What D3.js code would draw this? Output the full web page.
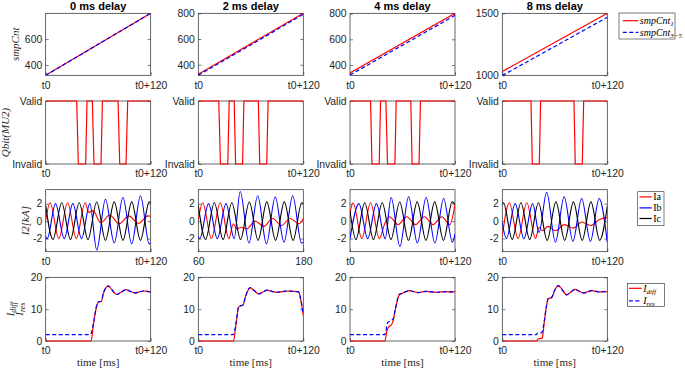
<!DOCTYPE html>
<html><head><meta charset="utf-8">
<script src="https://cdn.jsdelivr.net/npm/d3@7"></script>
<style>body{margin:0;background:#fff}svg{display:block}</style>
</head><body><svg id="c" width="685" height="369"></svg>
<script>
// ---------------- DATA ----------------
const titles = ["0 ms delay", "2 ms delay", "4 ms delay", "8 ms delay"];
const timeTickLabels = [["t0", "t0+120"], ["t0", "t0+120"], ["t0", "t0+120"], ["t0", "t0+120"]];
const currentTickLabels = [["t0", "t0+120"], ["60", "180"], ["t0", "t0+120"], ["t0", "t0+120"]];
const currentTimeDomain = [[0, 120], [60, 180], [0, 120], [0, 120]];

// Row 1: sample counters
const smpTicks = [[400, 600], [400, 600, 800], [400, 600, 800], [1000, 1500]];
const smpMin = [320, 318, 320, 1000];
const smpMax = [799, 800, 802, 1500];
const smp1Start = [320, 326, 338, 1030];
const smp1End = [799, 800, 802, 1500];
const smp35Start = [320, 318, 322, 998];
const smp35End = [799, 792, 786, 1468];

// Row 2: Qbit (1 = Valid, 0 = Invalid)
const qbitT = [
  [0, 35.4, 37.3, 45.7, 47.2, 53.3, 55.2, 63.2, 64.8, 82.7, 84.6, 91.8, 93.7, 120],
  [0, 23.4, 25.3, 33.7, 35.3, 41.0, 42.6, 50.6, 52.1, 68.6, 70.2, 78.2, 79.8, 120],
  [0, 23.5, 25.1, 33.4, 34.9, 41.0, 42.9, 51.3, 52.8, 69.5, 71.0, 78.9, 80.5, 120],
  [0, 32.8, 34.3, 42.3, 43.8, 81.9, 83.4, 91.4, 93.0, 120]
];
const qbitV = [
  [1, 1, 0, 0, 1, 1, 0, 0, 1, 1, 0, 0, 1, 1],
  [1, 1, 0, 0, 1, 1, 0, 0, 1, 1, 0, 0, 1, 1],
  [1, 1, 0, 0, 1, 1, 0, 0, 1, 1, 0, 0, 1, 1],
  [1, 1, 0, 0, 1, 1, 0, 0, 1, 1]
];

// Row 3: phase currents, extrema [time ms, kA]
const ia = [
  [[0,0.1],[5,2.1],[15,-2.0],[25,2.1],[35,-2.0],[45,2.1],[49.5,1.0],[54,1.2],[63,-0.2],[73,0.7],[84,-0.3],[95,0.6],[106,-0.25],[117,0.6],[120,0.55]],
  [[60,0.1],[65,2.1],[75,-2.0],[85,2.1],[95,-2.0],[100,-0.3],[104,-0.9],[109,-0.7],[115,-0.9],[125,0.0],[135,-0.6],[145,0.3],[155,-0.5],[165,0.3],[175,-0.3],[180,0.3]],
  [[0,0.95],[3.5,2.1],[13.5,-2.0],[23.5,2.1],[33.5,-2.0],[40,-0.2],[45,0.5],[55,-0.4],[65,0.5],[75,-0.4],[85,0.5],[95,-0.4],[105,0.5],[114,-0.4],[120,1.9]],
  [[0,-1.7],[8,2.1],[18,-2.0],[28,2.1],[38,-2.0],[42,-0.7],[46,-1.1],[52,-0.6],[61,-1.1],[71,-0.4],[81,-0.8],[91,-0.1],[101,-0.5],[111,0.2],[120,0.4]]
];
const ib = [
  [[0,-1.75],[1.7,-2.0],[11.2,2.0],[21.2,-2.0],[31,2.0],[41,-2.0],[50.5,2.0],[58.3,-3.3],[68.3,2.5],[78.3,-2.5],[88.3,2.7],[98.3,-2.6],[108.3,2.9],[118.3,-2.6],[120,-2.5]],
  [[60,-1.75],[61.7,-2.0],[71.7,2.0],[81.7,-2.0],[91.7,2.0],[101,-2.0],[107.9,3.4],[117.9,-2.5],[127.9,2.9],[137.9,-2.6],[147.9,2.8],[157.9,-2.4],[167.9,2.9],[177.9,-2.5],[180,-2.4]],
  [[0,-2.0],[10.2,2.0],[20.2,-2.0],[30.2,2.0],[40.2,-2.0],[47,2.7],[57,-2.9],[67,2.8],[77,-2.5],[87,2.7],[97,-2.5],[107,2.6],[117,-2.4],[120,-1.5]],
  [[0,-0.2],[4.7,-2.0],[14.7,2.0],[24.7,-2.0],[34.7,2.0],[42,-1.3],[50.7,3.3],[60.7,-2.4],[70.7,2.8],[80.7,-2.3],[90.7,2.6],[100.7,-2.3],[110.7,2.6],[120,-2.4]]
];
const ic = [
  [[0,1.8],[8.3,-2.1],[18.3,2.1],[28.3,-2.1],[38.3,2.1],[48.3,-2.1],[58.3,2.2],[68.3,-2.2],[78.3,2.2],[88.3,-2.2],[98.3,2.2],[108.3,-2.2],[118.3,2.2],[120,2.1]],
  [[60,1.8],[68.3,-2.1],[78.3,2.1],[88.3,-2.1],[98.3,2.1],[108.3,-2.1],[118.3,2.2],[128.3,-2.2],[138.3,2.2],[148.3,-2.2],[158.3,2.2],[168.3,-2.2],[178.3,2.1],[180,2.0]],
  [[0,1.15],[6.8,-2.1],[16.8,2.1],[26.8,-2.1],[36.8,2.1],[46.8,-2.1],[56.8,2.2],[66.8,-2.2],[76.8,2.2],[86.8,-2.2],[96.8,2.2],[106.8,-2.2],[116.8,2.2],[120,1.9]],
  [[0,2.05],[1.3,2.1],[11.3,-2.1],[21.3,2.1],[31.3,-2.1],[41.3,2.1],[51.3,-2.2],[61.3,2.2],[71.3,-2.2],[81.3,2.2],[91.3,-2.2],[101.3,2.2],[111.3,-2.2],[120,1.7]]
];

// Row 4: differential and restraint currents [time ms, value]
const idiff = [
  [[0,0],[51.8,0],[54.5,5],[58.3,11],[60.2,12.2],[63.5,12.4],[66,15],[71.6,17.2],[76,16],[81,14.6],[86,15.3],[91.8,16.1],[97,15.6],[102,15.1],[107,15.4],[111.6,15.7],[116,15.6],[120,15.4]],
  [[0,0],[40.3,0],[43,5],[46,10.5],[48,11],[51,11.2],[54,14],[59.4,16.7],[64,15.8],[69,14.8],[74,15.4],[78.6,16],[84,15.6],[90,15.3],[96,15.5],[101.6,15.7],[107,15.6],[113,15.5],[115,15.3],[117,13],[120,8]],
  [[0,0],[39.9,0],[42,3],[44.4,4.5],[47,5],[49,6],[52,10],[56.2,14.5],[60,15],[64,15.5],[68.4,15.8],[73,15.5],[77.9,15.2],[82,15.4],[87.4,15.6],[93,15.4],[98.7,15.3],[104,15.4],[110,15.5],[115,15.4],[120,15.4]],
  [[0,0],[39.2,0],[41,0.7],[45,0.8],[45.7,1],[48,6],[50,10],[52.6,13.3],[56.4,13.6],[60,16],[64,17.4],[68,16.3],[73.5,14.5],[78,15.3],[83,16.2],[88,15.6],[92.6,15.1],[97,15.4],[102,15.8],[107,15.6],[111.6,15.4],[116,15.5],[120,15.5]]
];
const ires = [
  [[0,2],[50.8,2],[52,2.5],[54.5,5.5],[58.3,11.2],[60.2,12.3],[63.5,12.5],[66,15.1],[71.6,17.3],[76,16],[81,14.6],[86,15.3],[91.8,16.1],[97,15.6],[102,15.1],[107,15.4],[111.6,15.7],[116,15.6],[120,15.4]],
  [[0,2],[40,2],[41,2.5],[43,5.5],[46,10.7],[48,11.1],[51,11.3],[54,14.1],[59.4,16.8],[64,15.8],[69,14.8],[74,15.4],[78.6,16],[84,15.6],[90,15.3],[96,15.5],[101.6,15.7],[107,15.6],[113,15.5],[115,15.3],[117,13.2],[120,8.5]],
  [[0,2],[39.5,2],[41,3],[42.5,5.5],[45,6.2],[47,6.5],[49,6.8],[52,10.3],[56.2,14.6],[60,15],[64,15.5],[68.4,15.8],[73,15.5],[77.9,15.2],[82,15.4],[87.4,15.6],[93,15.4],[98.7,15.3],[104,15.4],[110,15.5],[115,15.4],[120,15.4]],
  [[0,2],[39.2,2],[40,2.5],[45,2.6],[45.7,3],[48,6.3],[50,10.2],[52.6,13.4],[56.4,13.7],[60,16],[64,17.4],[68,16.3],[73.5,14.5],[78,15.3],[83,16.2],[88,15.6],[92.6,15.1],[97,15.4],[102,15.8],[107,15.6],[111.6,15.4],[116,15.5],[120,15.5]]
];

// ---------------- LAYOUT ----------------
const colX = [45.7, 198.3, 350, 502.3];
const PW = 105;
const rowY = [13.3, 101, 189.7, 277.3];
const rowH = [62, 63, 62, 63.7];
const SANS = "'Liberation Sans', Arial, Helvetica, sans-serif";
const SERIF = "'Liberation Serif', 'Times New Roman', serif";
const AXC = "#262626";
const RED = "#ff0000", BLUE = "#0000ff", BLACK = "#000000";

const svg = d3.select("#c");
const defs = svg.append("defs");

function makePanel(r, c, xDomain, yDomain, xTicks, xLabels, yTicks, yLabels) {
  const g = svg.append("g").attr("transform", `translate(${colX[c]},${rowY[r]})`);
  const x = d3.scaleLinear().domain(xDomain).range([0, PW]);
  const y = d3.scaleLinear().domain(yDomain).range([rowH[r], 0]);
  const id = `clip${r}_${c}`;
  defs.append("clipPath").attr("id", id).append("rect")
    .attr("x", 0).attr("y", -1).attr("width", PW).attr("height", rowH[r] + 2);
  const style = sel => {
    sel.select(".domain").remove();
    sel.selectAll("line").attr("stroke", AXC).attr("stroke-width", 0.6);
    sel.selectAll("text").attr("fill", AXC).style("font-family", SANS).style("font-size", "10.4px");
  };
  g.append("g").attr("transform", `translate(0,${rowH[r]})`)
    .call(d3.axisBottom(x).tickValues(xTicks).tickFormat((d, i) => xLabels[i]).tickSizeInner(-3).tickSizeOuter(0).tickPadding(6))
    .call(style);
  g.append("g")
    .call(d3.axisLeft(y).tickValues(yTicks).tickFormat((d, i) => yLabels[i]).tickSizeInner(-3).tickSizeOuter(0).tickPadding(3.5))
    .call(style);
  g.append("g").attr("transform", `translate(${PW},0)`)
    .call(d3.axisRight(y).tickValues(yTicks).tickFormat("").tickSizeInner(-3).tickSizeOuter(0))
    .call(style);
  g.append("rect").attr("x", 0).attr("y", 0).attr("width", PW).attr("height", rowH[r])
    .attr("fill", "none").attr("stroke", AXC).attr("stroke-width", 0.7);
  const plot = g.append("g").attr("clip-path", `url(#${id})`);
  return {g, x, y, plot};
}

// titles
titles.forEach((t, c) => {
  svg.append("text").attr("x", colX[c] + PW / 2).attr("y", 9.6).attr("text-anchor", "middle")
    .style("font-family", SANS).style("font-weight", "bold").style("font-size", "11px").attr("fill", "#000").text(t);
});

// Row 1
for (let c = 0; c < 4; c++) {
  const p = makePanel(0, c, [0, 120], [smpMin[c], smpMax[c]], [0, 120], timeTickLabels[c], smpTicks[c], smpTicks[c].map(String));
  const ln = d3.line().x(d => p.x(d[0])).y(d => p.y(d[1]));
  p.plot.append("path").datum([[0, smp1Start[c]], [120, smp1End[c]]]).attr("d", ln)
    .attr("fill", "none").attr("stroke", RED).attr("stroke-width", 1.2);
  p.plot.append("path").datum([[0, smp35Start[c]], [120, smp35End[c]]]).attr("d", ln)
    .attr("fill", "none").attr("stroke", BLUE).attr("stroke-width", 1.2).attr("stroke-dasharray", "4,2.5");
}

// Row 2
for (let c = 0; c < 4; c++) {
  const p = makePanel(1, c, [0, 120], [0, 1], [0, 120], timeTickLabels[c], [0, 1], ["Invalid", "Valid"]);
  const pts = qbitT[c].map((t, i) => [t, qbitV[c][i]]);
  const ln = d3.line().x(d => p.x(d[0])).y(d => p.y(d[1]));
  p.plot.append("path").datum(pts).attr("d", ln)
    .attr("fill", "none").attr("stroke", RED).attr("stroke-width", 1.2);
}

// Row 3
for (let c = 0; c < 4; c++) {
  const dom = currentTimeDomain[c];
  const p = makePanel(2, c, dom, [-3.5, 3.6], dom, currentTickLabels[c], [-2, 0, 2], ["-2", "0", "2"]);
  const line = d3.line().x(d => p.x(d[0])).y(d => p.y(d[1])).curve(d3.curveMonotoneX);
  [[ia[c], RED], [ib[c], BLUE], [ic[c], BLACK]].forEach(([d, col]) => {
    p.plot.append("path").datum(d).attr("d", line)
      .attr("fill", "none").attr("stroke", col).attr("stroke-width", 1.1);
  });
}

// Row 4
for (let c = 0; c < 4; c++) {
  const p = makePanel(3, c, [0, 120], [0, 20], [0, 120], timeTickLabels[c], [0, 10, 20], ["0", "10", "20"]);
  const line = d3.line().x(d => p.x(d[0])).y(d => p.y(d[1])).curve(d3.curveMonotoneX);
  p.plot.append("path").datum(idiff[c]).attr("d", line)
    .attr("fill", "none").attr("stroke", RED).attr("stroke-width", 1.2);
  p.plot.append("path").datum(ires[c]).attr("d", line)
    .attr("fill", "none").attr("stroke", BLUE).attr("stroke-width", 1.2).attr("stroke-dasharray", "4,2.5");
  svg.append("text").attr("x", colX[c] + PW / 2).attr("y", 366).attr("text-anchor", "middle")
    .style("font-family", SERIF).style("font-size", "11px").attr("fill", AXC).text("time [ms]");
}

// Y labels
function ylab(x, yc, build) {
  const t = svg.append("text").attr("transform", `translate(${x},${yc}) rotate(-90)`)
    .attr("text-anchor", "middle").style("font-family", SERIF).style("font-size", "11px")
    .style("font-style", "italic").attr("fill", AXC);
  build(t);
}
ylab(19, rowY[0] + rowH[0] / 2, t => t.text("smpCnt"));
ylab(9, rowY[1] + rowH[1] / 2, t => t.text("Qbit(MU2)"));
ylab(29, rowY[2] + rowH[2] / 2, t => { t.text("I2[kA]"); });
ylab(14, rowY[3] + rowH[3] / 2, t => { t.append("tspan").text("I"); t.append("tspan").attr("dy", 2).style("font-size", "8px").text("diff"); });
ylab(23, rowY[3] + rowH[3] / 2, t => { t.append("tspan").text("I"); t.append("tspan").attr("dy", 2).style("font-size", "8px").text("res"); });

// Legends
function legend(x, y, w, h, items, italic) {
  const g = svg.append("g");
  g.append("rect").attr("x", x).attr("y", y).attr("width", w).attr("height", h)
    .attr("fill", "#fff").attr("stroke", AXC).attr("stroke-width", 0.6);
  items.forEach(it => {
    g.append("line").attr("x1", it.x1).attr("x2", it.x2).attr("y1", it.y).attr("y2", it.y)
      .attr("stroke", it.color).attr("stroke-width", 1.2).attr("stroke-dasharray", it.dash || null);
    const t = g.append("text").attr("x", it.x2 + 1.5).attr("y", it.y + 3.3)
      .style("font-family", SERIF).style("font-size", "10px").attr("fill", "#000")
      .style("font-style", italic ? "italic" : "normal");
    t.append("tspan").text(it.main);
    if (it.sub) t.append("tspan").attr("dy", 2).style("font-size", "7px").text(it.sub);
  });
}
legend(619, 13, 56, 26, [
  {x1: 622.7, x2: 638.3, y: 20.7, color: RED, main: "smpCnt", sub: "1"},
  {x1: 622.7, x2: 638.3, y: 32.3, color: BLUE, dash: "4,2.5", main: "smpCnt", sub: "3\u22125"}
], true);
legend(637.7, 191.7, 26.3, 34, [
  {x1: 639.5, x2: 651.7, y: 196.9, color: RED, main: "Ia"},
  {x1: 639.5, x2: 651.7, y: 207.9, color: BLUE, main: "Ib"},
  {x1: 639.5, x2: 651.7, y: 218.5, color: BLACK, main: "Ic"}
], false);
legend(627.3, 283.3, 37, 23.4, [
  {x1: 628.9, x2: 641.7, y: 288.3, color: RED, main: "I", sub: "diff"},
  {x1: 628.9, x2: 641.7, y: 300.8, color: BLUE, dash: "4,2.5", main: "I", sub: "res"}
], true);
</script>
</body></html>
